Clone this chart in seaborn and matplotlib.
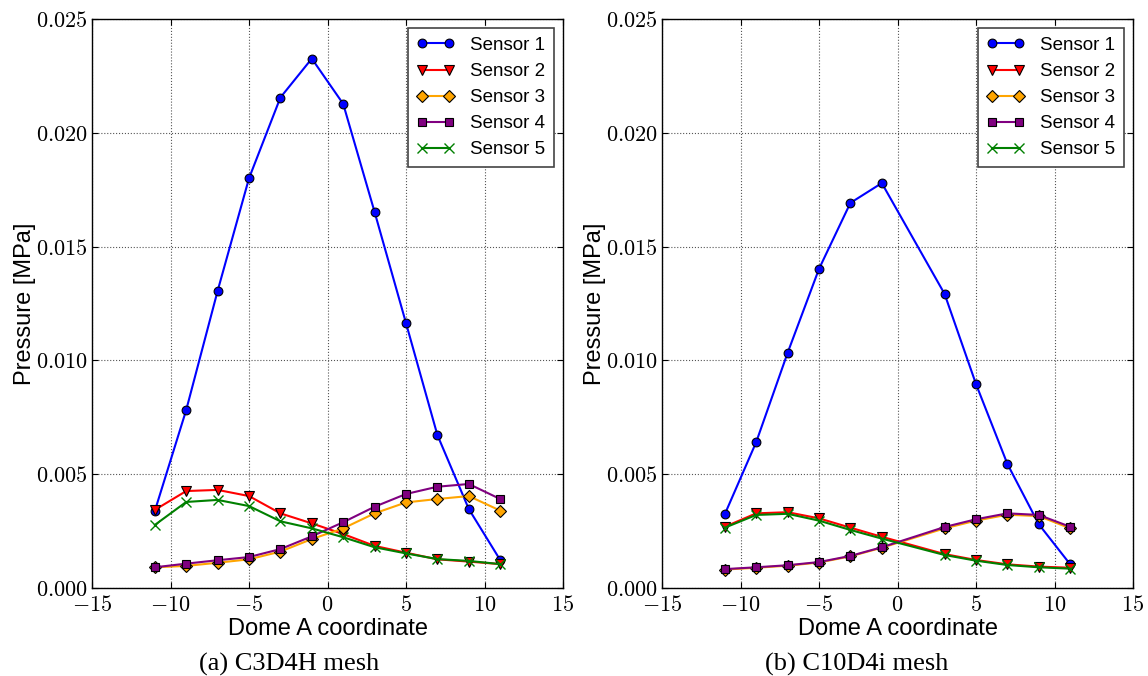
import matplotlib
matplotlib.use("Agg")
import matplotlib.pyplot as plt
import matplotlib.ticker as mticker
import seaborn as sns
import pandas as pd

# ---- data ----
x_left = [-11, -9, -7, -5, -3, -1, 1, 3, 5, 7, 9, 11]
left_s1 = [0.00338, 0.00782, 0.01305, 0.01800, 0.02155, 0.02326, 0.02127, 0.01652, 0.01164, 0.00672, 0.00347, 0.00123]
left_s2 = [0.00343, 0.00426, 0.00431, 0.00404, 0.00328, 0.00284, 0.00237, 0.00185, 0.00155, 0.00126, 0.00116, 0.00105]
left_s3 = [0.00091, 0.00097, 0.00111, 0.00126, 0.00160, 0.00215, 0.00262, 0.00328, 0.00376, 0.00391, 0.00404, 0.00340]
left_s4 = [0.00091, 0.00107, 0.00122, 0.00136, 0.00171, 0.00227, 0.00289, 0.00357, 0.00413, 0.00445, 0.00457, 0.00391]
left_s5 = [0.00277, 0.00378, 0.00387, 0.00360, 0.00293, 0.00262, 0.00223, 0.00179, 0.00152, 0.00127, 0.00119, 0.00105]

x_right = [-11, -9, -7, -5, -3, -1, 3, 5, 7, 9, 11]
right_s1 = [0.00324, 0.00641, 0.01033, 0.01402, 0.01692, 0.01779, 0.01292, 0.00896, 0.00545, 0.00280, 0.00104]
right_s2 = [0.00269, 0.00328, 0.00333, 0.00306, 0.00265, 0.00225, 0.00149, 0.00123, 0.00104, 0.00094, 0.00089]
right_s3 = [0.00081, 0.00089, 0.00098, 0.00112, 0.00139, 0.00177, 0.00262, 0.00296, 0.00322, 0.00316, 0.00262]
right_s4 = [0.00083, 0.00091, 0.00100, 0.00114, 0.00141, 0.00179, 0.00268, 0.00302, 0.00328, 0.00321, 0.00269]
right_s5 = [0.00265, 0.00321, 0.00326, 0.00296, 0.00255, 0.00217, 0.00145, 0.00120, 0.00101, 0.00091, 0.00085]

sensor_names = ["Sensor 1", "Sensor 2", "Sensor 3", "Sensor 4", "Sensor 5"]
captions = ["(a) C3D4H mesh", "(b) C10D4i mesh"]
x_ticks = [-15, -10, -5, 0, 5, 10, 15]
y_ticks = [0.000, 0.005, 0.010, 0.015, 0.020, 0.025]

colors = ["#0000ff", "#ff0000", "#ffa500", "#800080", "#008000"]
markers = ["o", "v", "D", "s", "x"]
msizes = [6.3, 7, 6, 6, 7]

plt.rcParams["mathtext.fontset"] = "cm"
plt.rcParams["xtick.direction"] = "in"
plt.rcParams["ytick.direction"] = "in"
plt.rcParams["xtick.top"] = True
plt.rcParams["ytick.right"] = True

fig = plt.figure(figsize=(11.48, 6.76), dpi=100)
ax1 = fig.add_axes([92 / 1148, 1 - 588 / 676, 471 / 1148, 569 / 676])
ax2 = fig.add_axes([662 / 1148, 1 - 588 / 676, 471 / 1148, 569 / 676])

panels = [
    (ax1, x_left, [left_s1, left_s2, left_s3, left_s4, left_s5], 289),
    (ax2, x_right, [right_s1, right_s2, right_s3, right_s4, right_s5], 857),
]

for (ax, xs, series, cap_x), cap in zip(panels, captions):
    for name, ys, c, m, ms in zip(sensor_names, series, colors, markers, msizes):
        df = pd.DataFrame({"x": xs, "y": ys})
        kw = dict(marker=m, markersize=ms, color=c, linewidth=1.5, label=name)
        if m == "x":
            kw.update(markeredgecolor=c, markeredgewidth=1.0)
        else:
            kw.update(markeredgecolor="k", markeredgewidth=0.8, markerfacecolor=c)
        sns.lineplot(data=df, x="x", y="y", ax=ax, estimator=None, sort=False, **kw)
    ax.set_xlim(-15, 15)
    ax.set_ylim(0, 0.025)
    ax.set_xticks(x_ticks)
    ax.set_yticks(y_ticks)
    ax.xaxis.set_major_formatter(mticker.FuncFormatter(lambda v, p: f"${int(round(v))}$"))
    ax.yaxis.set_major_formatter(mticker.FuncFormatter(lambda v, p: f"${v:.3f}$"))
    ax.tick_params(labelsize=16, length=4, width=0.8)
    ax.tick_params(axis="x", pad=5)
    ax.tick_params(axis="y", pad=3)
    ax.grid(True, color="#555555", linestyle=":", linewidth=0.8)
    for sp in ax.spines.values():
        sp.set_linewidth(1.0)
        sp.set_color("k")
    ax.set_xlabel("Dome A coordinate", fontsize=17, family="Liberation Sans", labelpad=2)
    ax.set_ylabel("Pressure [MPa]", fontsize=17, family="Liberation Sans", labelpad=0)
    h, l = ax.get_legend_handles_labels()
    leg = ax.legend(h, l, loc="upper right", numpoints=2, fancybox=False,
                    framealpha=1, edgecolor="#444444", handlelength=2.0,
                    handletextpad=0.85, borderpad=0.45, labelspacing=0.48,
                    borderaxespad=0.5,
                    prop={"family": "Liberation Sans", "size": 13.5})
    leg.get_frame().set_linewidth(1.2)
    fig.text(cap_x / 1148, 1 - 664 / 676, cap, ha="center", va="center",
             fontsize=19, family="Liberation Serif")

fig.savefig("out.png", dpi=100)
